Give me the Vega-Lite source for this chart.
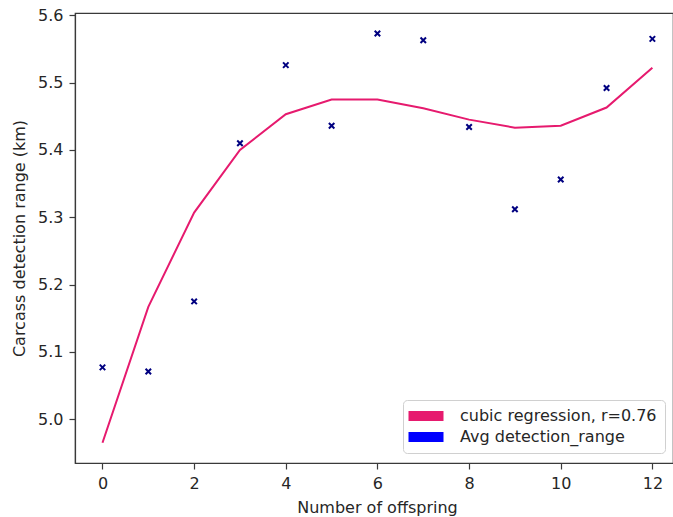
{
  "$schema": "https://vega.github.io/schema/vega-lite/v6.json",
  "width": 598,
  "height": 450,
  "autosize": {"type": "none"},
  "padding": {"left": 75, "top": 13, "right": 0, "bottom": 54},
  "background": "white",
  "config": {
    "font": "DejaVu Sans",
    "view": {"stroke": "#3a3a3a", "strokeWidth": 1.2},
    "axis": {
      "grid": false,
      "domainColor": "#3a3a3a",
      "domainWidth": 1.2,
      "tickColor": "#3a3a3a",
      "tickWidth": 1.2,
      "tickSize": 6,
      "labelFontSize": 16,
      "titleFontSize": 16,
      "titleFontWeight": "normal",
      "labelColor": "#262626",
      "titleColor": "#262626",
      "labelPadding": 6
    },
    "legend": {
      "orient": "none",
      "legendX": 328,
      "legendY": 387,
      "fillColor": "white",
      "strokeColor": "#d0d0d0",
      "cornerRadius": 4,
      "padding": 8,
      "labelFontSize": 16,
      "labelColor": "#262626",
      "labelOffset": 26,
      "labelLimit": 400,
      "rowPadding": 5,
      "symbolType": "M-3.5,-1L3.5,-1L3.5,1L-3.5,1Z",
      "symbolSize": 100,
      "symbolOffset": 7,
      "symbolStrokeWidth": 0,
      "title": null
    }
  },
  "datasets": {
    "pts": [
      {"offspring": 0, "range": 5.077},
      {"offspring": 1, "range": 5.071},
      {"offspring": 2, "range": 5.175},
      {"offspring": 3, "range": 5.410},
      {"offspring": 4, "range": 5.526},
      {"offspring": 5, "range": 5.436},
      {"offspring": 6, "range": 5.573},
      {"offspring": 7, "range": 5.563},
      {"offspring": 8, "range": 5.434},
      {"offspring": 9, "range": 5.312},
      {"offspring": 10, "range": 5.356},
      {"offspring": 11, "range": 5.492},
      {"offspring": 12, "range": 5.565}
    ],
    "fit": [
      {"offspring": 0, "range": 4.965, "series": "cubic regression, r=0.76"},
      {"offspring": 1, "range": 5.167, "series": "cubic regression, r=0.76"},
      {"offspring": 2, "range": 5.307, "series": "cubic regression, r=0.76"},
      {"offspring": 3, "range": 5.400, "series": "cubic regression, r=0.76"},
      {"offspring": 4, "range": 5.453, "series": "cubic regression, r=0.76"},
      {"offspring": 5, "range": 5.475, "series": "cubic regression, r=0.76"},
      {"offspring": 6, "range": 5.475, "series": "cubic regression, r=0.76"},
      {"offspring": 7, "range": 5.462, "series": "cubic regression, r=0.76"},
      {"offspring": 8, "range": 5.445, "series": "cubic regression, r=0.76"},
      {"offspring": 9, "range": 5.433, "series": "cubic regression, r=0.76"},
      {"offspring": 10, "range": 5.436, "series": "cubic regression, r=0.76"},
      {"offspring": 11, "range": 5.463, "series": "cubic regression, r=0.76"},
      {"offspring": 12, "range": 5.522, "series": "cubic regression, r=0.76"}
    ]
  },
  "layer": [
    {
      "data": {"name": "fit"},
      "mark": {"type": "line", "strokeWidth": 2},
      "encoding": {
        "x": {
          "field": "offspring", "type": "quantitative",
          "scale": {"domain": [-0.6, 12.45], "nice": false, "zero": false},
          "axis": {"values": [0, 2, 4, 6, 8, 10, 12], "title": "Number of offspring", "titlePadding": 8, "titleX": 302}
        },
        "y": {
          "field": "range", "type": "quantitative",
          "scale": {"domain": [4.935, 5.6034], "nice": false, "zero": false},
          "axis": {"values": [5.0, 5.1, 5.2, 5.3, 5.4, 5.5, 5.6], "format": ".1f", "title": "Carcass detection range (km)", "titlePadding": 10}
        },
        "color": {
          "field": "series", "type": "nominal",
          "scale": {"domain": ["cubic regression, r=0.76", "Avg detection_range"], "range": ["#e61a6e", "#0000ff"]},
          "legend": {
            "encode": {
              "symbols": {"update": {"fill": {"scale": "color", "field": "value"}, "fillOpacity": {"value": 1}, "strokeWidth": {"value": 0}}}
            }
          }
        }
      }
    },
    {
      "data": {"name": "pts"},
      "mark": {"type": "point", "shape": "M-1,-1L1,1M1,-1L-1,1", "size": 30, "filled": false, "stroke": "#000080", "strokeWidth": 2, "opacity": 1},
      "encoding": {
        "x": {"field": "offspring", "type": "quantitative"},
        "y": {"field": "range", "type": "quantitative"}
      }
    }
  ]
}
